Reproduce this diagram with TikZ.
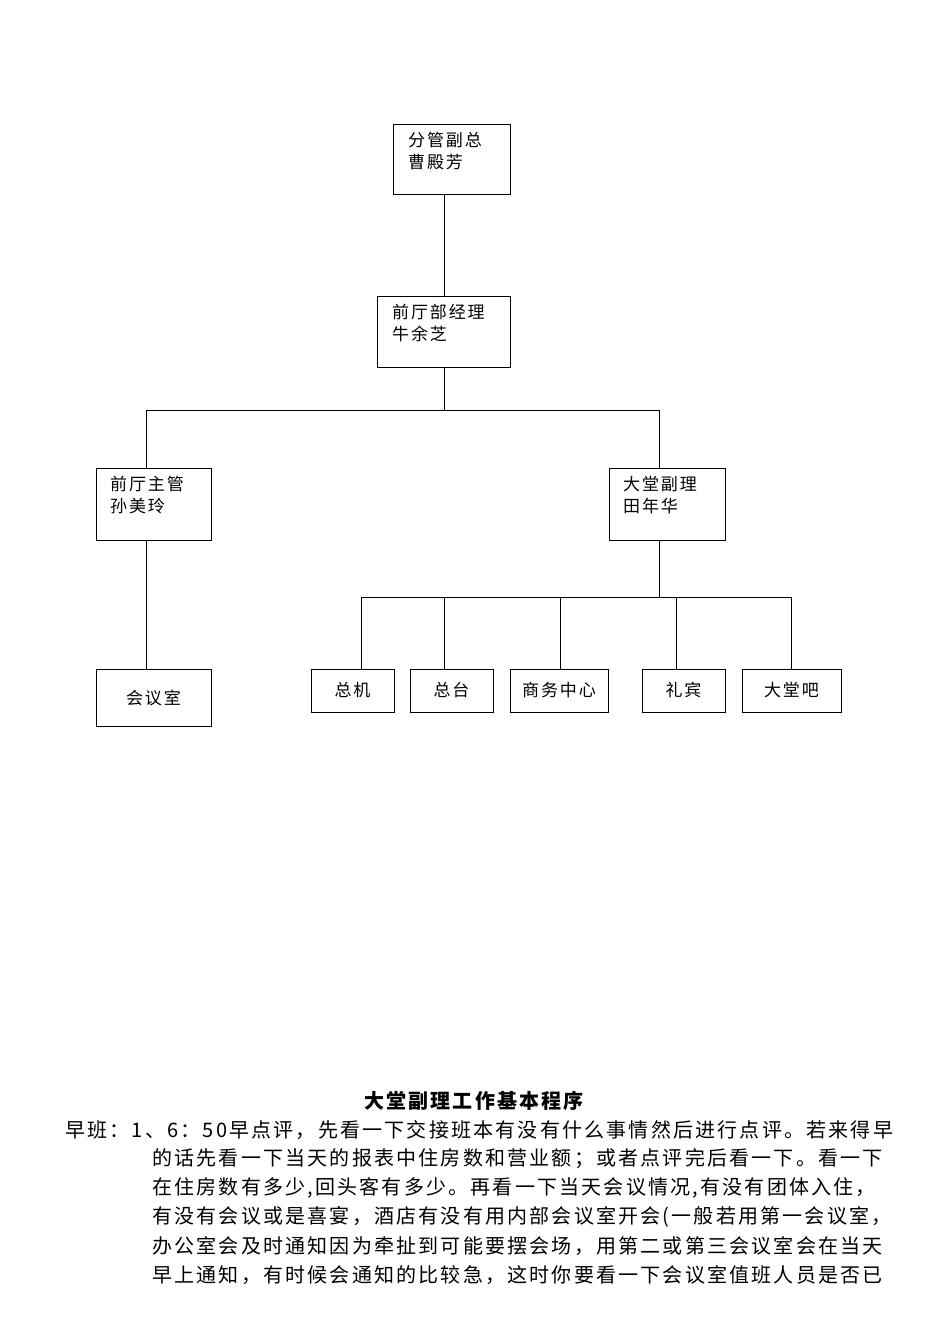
\documentclass[tikz,border=0pt]{standalone}
\usepackage{fontspec}
\setmainfont{Liberation Serif}
\newfontfamily\cjk[LetterSpace=11]{Noto Sans CJK SC}
\begin{document}
\begin{tikzpicture}[x=1pt,y=-1pt,
  bx/.style={draw,line width=0.9pt},
  t/.style={font=\cjk\fontsize{17}{22}\selectfont,anchor=north west,align=left,inner sep=0},
  c/.style={font=\cjk\fontsize{17}{22}\selectfont,inner sep=0},
  ln/.style={line width=0.9pt},
  para/.style={font=\cjk\fontsize{20}{22}\selectfont,anchor=west,inner sep=0}]
\useasboundingbox (0,0) rectangle (950,1342);
\draw[bx] (393,124) rectangle (510,194);
\node[t] (a) at (408,132) {分管副总\\曹殿芳};
\draw[bx] (377,296) rectangle (510,367);
\node[t] (b) at (392,304) {前厅部经理\\牛余芝};
\draw[bx] (96,468) rectangle (211,540);
\node[t] (c1) at (110,476) {前厅主管\\孙美玲};
\draw[bx] (609,468) rectangle (725,540);
\node[t] (d) at (623,476) {大堂副理\\田年华};
\draw[bx] (96,669) rectangle (211,726); \node[c] (e) at (153.5,698) {会议室};
\draw[bx] (311,669) rectangle (394,712); \node[c] (f1) at (352.5,690) {总机};
\draw[bx] (410,669) rectangle (493,712); \node[c] (f2) at (451.5,690) {总台};
\draw[bx] (510,669) rectangle (608,712); \node[c] (f3) at (559,690) {商务中心};
\draw[bx] (642,669) rectangle (725,712); \node[c] (f4) at (683.5,690) {礼宾};
\draw[bx] (742,669) rectangle (841,712); \node[c] (f5) at (791.5,690) {大堂吧};
\draw[ln] (444,194)--(444,296);
\draw[ln] (444,367)--(444,410);
\draw[ln] (146,468)--(146,410)--(659,410)--(659,468);
\draw[ln] (146,540)--(146,669);
\draw[ln] (659,540)--(659,597);
\draw[ln] (361,669)--(361,597)--(791,597)--(791,669);
\draw[ln] (444,597)--(444,669);
\draw[ln] (560,597)--(560,669);
\draw[ln] (676,597)--(676,669);
\node[font=\cjk\bfseries\fontsize{20}{22}\selectfont] (title) at (474,1101) {大堂副理工作基本程序};
\node[para] (p1) at (65,1130) {早班：1、6：50早点评，先看一下交接班本有没有什么事情然后进行点评。若来得早};
\node[para] (p2) at (152,1159) {的话先看一下当天的报表中住房数和营业额；或者点评完后看一下。看一下};
\node[para] (p3) at (152,1188) {在住房数有多少,回头客有多少。再看一下当天会议情况,有没有团体入住，};
\node[para] (p4) at (152,1217) {有没有会议或是喜宴，酒店有没有用内部会议室开会(一般若用第一会议室，};
\node[para] (p5) at (152,1246) {办公室会及时通知因为牵扯到可能要摆会场，用第二或第三会议室会在当天};
\node[para] (p6) at (152,1275) {早上通知，有时候会通知的比较急，这时你要看一下会议室值班人员是否已};
\end{tikzpicture}
\end{document}
